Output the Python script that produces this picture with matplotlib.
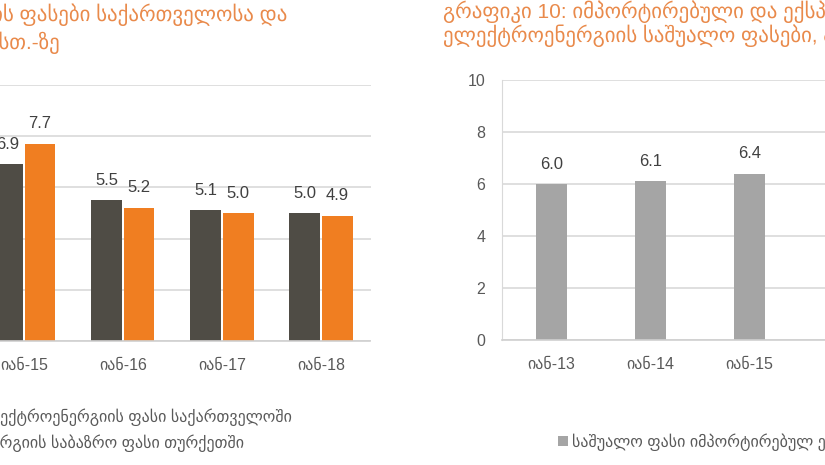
import matplotlib

matplotlib.use("Agg")
import matplotlib.pyplot as plt  # noqa: E402
import numpy as np  # noqa: E402

plt.rcParams["font.family"] = ["Liberation Sans", "DejaVu Sans"]

W, H = 825, 465

DARK = "#4f4c45"
ORANGE = "#f07e21"
GREY = "#a5a5a5"
TITLE = "#e98a4b"
TXT = "#595959"

# left chart: Georgia vs Turkey (first two groups lie outside the crop)
left_cats = ["იან-13", "იან-14", "იან-15", "იან-16", "იან-17", "იან-18"]
georgia = [5.9, 6.0, 6.9, 5.5, 5.1, 5.0]
turkey = [7.9, 7.4, 7.7, 5.2, 5.0, 4.9]

# right chart: average import price (only first three visible)
right_cats = ["იან-13", "იან-14", "იან-15", "იან-16", "იან-17", "იან-18"]
import_price = [6.0, 6.1, 6.4, 5.6, 5.3, 5.4]

left_title = ["გრაფიკი 9: ელექტროენერგიის ფასები საქართველოსა და",
              "თურქეთში, აშშ ცენტი/კვტ.სთ.-ზე"]
right_title = ["გრაფიკი 10: იმპორტირებული და ექსპორტირებული",
               "ელექტროენერგიის საშუალო ფასები, აშშ ცენტი/კვტ.სთ.-ზე"]
left_legend = ["ელექტროენერგიის ფასი საქართველოში",
               "ენერგიის საბაზრო ფასი თურქეთში"]
right_legend = "საშუალო ფასი იმპორტირებულ ელექტროენერგიაზე"


def rect(x0, y0, x1, y1):
    return [x0 / W, (H - y1) / H, (x1 - x0) / W, (y1 - y0) / H]


def style(ax):
    ax.set_ylim(0, 10)
    ax.set_yticks([0, 2, 4, 6, 8, 10])
    ax.grid(axis="y", color="#d9d9d9", lw=1.2)
    ax.set_axisbelow(True)
    for s in ["top", "right"]:
        ax.spines[s].set_visible(False)
    ax.spines["left"].set_color("#d9d9d9")
    ax.spines["bottom"].set_color("#d0d0d0")
    ax.spines["bottom"].set_linewidth(1.2)
    ax.tick_params(length=0, labelsize=11.5, colors=TXT, pad=12)


def labels(ax, bars):
    for b in bars:
        ax.annotate(f"{b.get_height():.1f}", (b.get_x() + b.get_width() / 2, b.get_height()),
                    xytext=(0, 9), textcoords="offset points", ha="center", va="bottom",
                    fontsize=12, color="#404040")


fig = plt.figure(figsize=(W / 100, H / 100), dpi=100)

# left chart
ax1 = fig.add_axes(rect(-224, 85, 370.5, 341))
x = np.arange(len(left_cats))
b1 = ax1.bar(x - 0.165, georgia, 0.31, color=DARK, label=left_legend[0])
b2 = ax1.bar(x + 0.165, turkey, 0.31, color=ORANGE, label=left_legend[1])
labels(ax1, b1)
labels(ax1, b2)
ax1.set_xlim(-0.5, len(left_cats) - 0.5)
ax1.set_xticks(x)
ax1.set_xticklabels(left_cats)
style(ax1)
ax1.legend(loc="upper right", bbox_to_anchor=(300 / W, 1 - 400 / H), bbox_transform=fig.transFigure,
           frameon=False, fontsize=11.5, labelcolor=TXT, handlelength=0.6, handleheight=0.6,
           labelspacing=0.55, borderpad=0)

# right chart
ax2 = fig.add_axes(rect(502, 80, 1096, 340))
x2 = np.arange(len(right_cats))
b3 = ax2.bar(x2, import_price, 0.32, color=GREY, label=right_legend)
labels(ax2, b3)
ax2.set_xlim(-0.5, len(right_cats) - 0.5)
ax2.set_xticks(x2)
ax2.set_xticklabels(right_cats)
style(ax2)
ax2.legend(loc="upper left", bbox_to_anchor=(550 / W, 1 - 425 / H), bbox_transform=fig.transFigure,
           frameon=False, fontsize=11.5, labelcolor=TXT, handlelength=0.6, handleheight=0.6,
           handletextpad=0.3, borderpad=0)

# titles
fig.text(287 / W, 1 - 15 / H, left_title[0], ha="right", va="center", fontsize=15, color=TITLE)
fig.text(60 / W, 1 - 43 / H, left_title[1], ha="right", va="center", fontsize=15, color=TITLE)
fig.text(443 / W, 1 - 12 / H, right_title[0], ha="left", va="center", fontsize=15, color=TITLE)
fig.text(443 / W, 1 - 36 / H, right_title[1], ha="left", va="center", fontsize=15, color=TITLE)

fig.savefig("out.png", dpi=100)
